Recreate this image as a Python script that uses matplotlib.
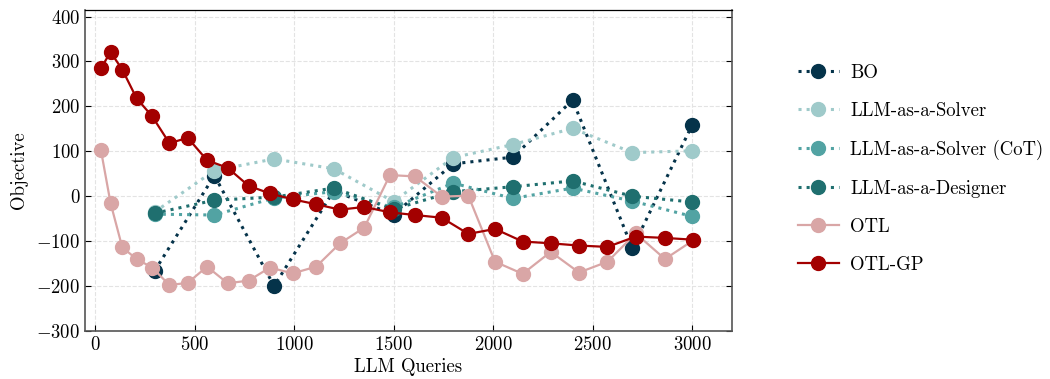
import numpy as np
import matplotlib
matplotlib.use('Agg')
import matplotlib.pyplot as plt

plt.rcParams['font.family'] = 'serif'
plt.rcParams['font.serif'] = ['cmr10']
plt.rcParams['mathtext.fontset'] = 'cm'
plt.rcParams['axes.formatter.use_mathtext'] = True
plt.rcParams['axes.unicode_minus'] = True

# baselines evaluated every 300 queries
x_base = [300, 600, 900, 1200, 1500, 1800, 2100, 2400, 2700, 3000]
bo = [-166, 46, -200, 12, -41, 72, 87, 214, -116, 158]
solver = [-35, 57, 83, 61, -12, 86, 115, 151, 97, 101]
solver_cot = [-40, -42, -4, 10, -25, 29, -5, 18, -11, -45]
designer = [-38, -9, -2, 18, -29, 10, 21, 34, 0, -13]

# OTL runs
x_otl = [30, 78, 137, 209, 287, 374, 466, 563, 667, 772, 879, 993, 1111, 1231,
         1353, 1482, 1608, 1742, 1876, 2010, 2149, 2290, 2432, 2575, 2717, 2864, 3007]
otl = [102, -15, -114, -140, -159, -198, -193, -157, -194, -188, -159, -172, -157,
       -105, -70, 47, 44, -1, 1, -146, -173, -124, -170, -146, -83, -140, -98]
otl_gp = [285, 321, 282, 218, 178, 118, 130, 80, 63, 23, 6, -7, -18, -30, -24,
          -36, -42, -48, -84, -73, -101, -105, -110, -113, -90, -93, -97]

fig = plt.figure(figsize=(10.5, 3.79), dpi=100)
ax = fig.add_axes([0.081, 0.127, 0.616, 0.847])

ms = 10
ax.plot(x_base, bo, ':', color='#05334a', lw=2.2, marker='o', ms=ms, label='BO')
ax.plot(x_base, solver, ':', color='#9fcaca', lw=2.2, marker='o', ms=ms, label='LLM-as-a-Solver')
ax.plot(x_base, solver_cot, ':', color='#52a3a3', lw=2.2, marker='o', ms=ms, label='LLM-as-a-Solver (CoT)')
ax.plot(x_base, designer, ':', color='#1f6f6f', lw=2.2, marker='o', ms=ms, label='LLM-as-a-Designer')
ax.plot(x_otl, otl, '-', color='#d9a6a6', lw=1.6, marker='o', ms=ms, label='OTL')
ax.plot(x_otl, otl_gp, '-', color='#a30000', lw=1.6, marker='o', ms=ms, label='OTL-GP')

ax.set_xlim(-50, 3200)
ax.set_ylim(-300, 415)
ax.set_xticks(np.arange(0, 3001, 500))
ax.set_yticks(np.arange(-300, 401, 100))
ax.tick_params(direction='in', length=4, labelsize=13.5, right=True, top=False)
ax.grid(True, ls='--', color='#e3e3e3', lw=0.8)
ax.set_axisbelow(True)
for s in ['left', 'bottom', 'right']:
    ax.spines[s].set_color('#555555')
    ax.spines[s].set_linewidth(1.2)
ax.spines['top'].set_color('black')
ax.spines['top'].set_linewidth(0.9)

ax.set_xlabel('LLM Queries', fontsize=13.5, labelpad=3)
ax.set_ylabel('Objective', fontsize=13.5, labelpad=6)

ax.legend(loc='center left', bbox_to_anchor=(1.09, 0.505), frameon=False,
          fontsize=13.5, labelspacing=1.07, handlelength=2.2, handletextpad=0.6,
          borderaxespad=0.0)

fig.savefig('out.png', dpi=100)
